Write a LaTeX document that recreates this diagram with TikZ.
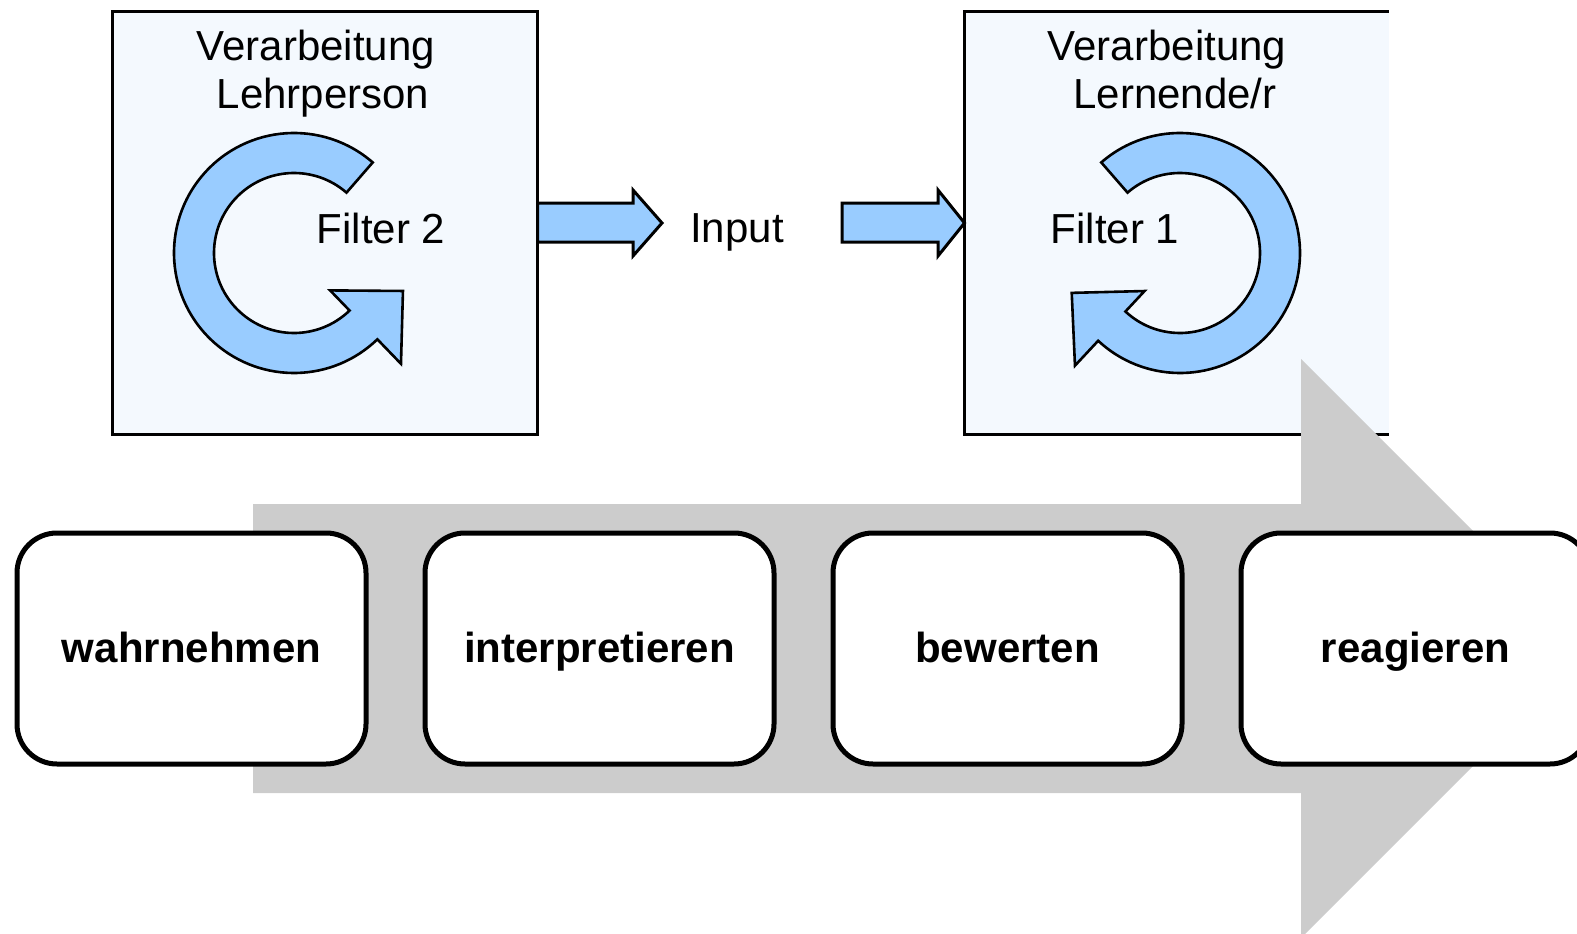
\documentclass[tikz,border=0pt]{standalone}
\usepackage{fontspec}
\setmainfont{Liberation Sans}
\usetikzlibrary{calc}
\definecolor{panelfill}{RGB}{244,249,254}
\definecolor{arrowblue}{RGB}{153,204,255}
\definecolor{flowgray}{RGB}{204,204,204}
\begin{document}
\begin{tikzpicture}[x=1pt,y=1pt,
  panel/.style={fill=panelfill,draw=black,line width=3pt,outer sep=0pt,inner sep=0pt},
  panelbg/.style={fill=panelfill,draw=none,outer sep=0pt,inner sep=0pt},
  bluearrow/.style={fill=arrowblue,draw=black,line width=2.6pt,line join=miter},
  inarrow/.style={fill=arrowblue,draw=black,line width=3pt,line join=miter},
  paneltext/.style={font=\fontsize{42}{50}\selectfont,inner sep=0pt,anchor=base},
  stepbox/.style={draw=black,line width=5pt,fill=white,rounded corners=40pt,
    minimum width=349pt,minimum height=231pt,inner sep=0pt,
    font=\bfseries\fontsize{42}{50}\selectfont,text height=31pt,text depth=3pt}
]
\useasboundingbox (0,0) rectangle (1577,-934);
\clip (0,0) rectangle (1577,-934);

% left panel
\node[panel,minimum width=425pt,minimum height=422pt] (lehr) at (325,-223) {};
% right panel (cut at the right)
\node[panelbg,minimum width=424pt,minimum height=422pt] (lern) at (1176.5,-223) {};
\draw[line width=3pt] (lern.north east) -- (lern.north west) -- (lern.south west) -- (lern.south east);

% panel texts
\node[paneltext] (lehrA) at (316,-61) {Verarbeitung};
\node[paneltext] (lehrB) at (323,-108) {Lehrperson};
\node[paneltext] (lernA) at (1167,-61) {Verarbeitung};
\node[paneltext] (lernB) at (1175,-108) {Lernende/r};

% circular arrow left
\begin{scope}[shift={(294,-253)}]
\draw[bluearrow] (49:120pt) arc[start angle=49,end angle=314,radius=120pt]
  -- (314:154pt) -- (108.96pt,-37.97pt) -- (314:52pt) -- (314:80pt)
  arc[start angle=314,end angle=49,radius=80pt] -- cycle;
\end{scope}
% circular arrow right
\begin{scope}[shift={(1180,-253)}]
\draw[bluearrow] (131:120pt) arc[start angle=131,end angle=-133,radius=120pt]
  -- (-133:154pt) -- (-108.28pt,-39.87pt) -- (-133:52pt) -- (-133:80pt)
  arc[start angle=-133,end angle=131,radius=80pt] -- cycle;
\end{scope}

\node[paneltext] (f2) at (381,-243) {Filter 2};
\node[paneltext] (f1) at (1115,-243) {Filter 1};
\node[paneltext] (input) at (737,-242) {Input};

% input arrows
\draw[inarrow] (lehr.east |- 0,-203) -- (633,-203) -- (633,-190) -- (662,-223)
  -- (633,-256) -- (633,-242) -- (lehr.east |- 0,-242) -- cycle;
\draw[inarrow] (842,-203) -- (938,-203) -- (938,-190) -- (lern.west |- 0,-223)
  -- (938,-256) -- (938,-242) -- (842,-242) -- cycle;

% big gray process arrow
\fill[flowgray] (253,-504) -- (1301,-504) -- (1301,-359) -- (1590.5,-648.5)
  -- (1301,-938) -- (1301,-793) -- (253,-793) -- cycle;

% steps
\node[stepbox] (s1) at (191.5,-648.5) {wahrnehmen};
\node[stepbox] (s2) at (599.5,-648.5) {interpretieren};
\node[stepbox] (s3) at (1007.5,-648.5) {bewerten};
\node[stepbox] (s4) at (1415.5,-648.5) {reagieren};
\end{tikzpicture}
\end{document}
